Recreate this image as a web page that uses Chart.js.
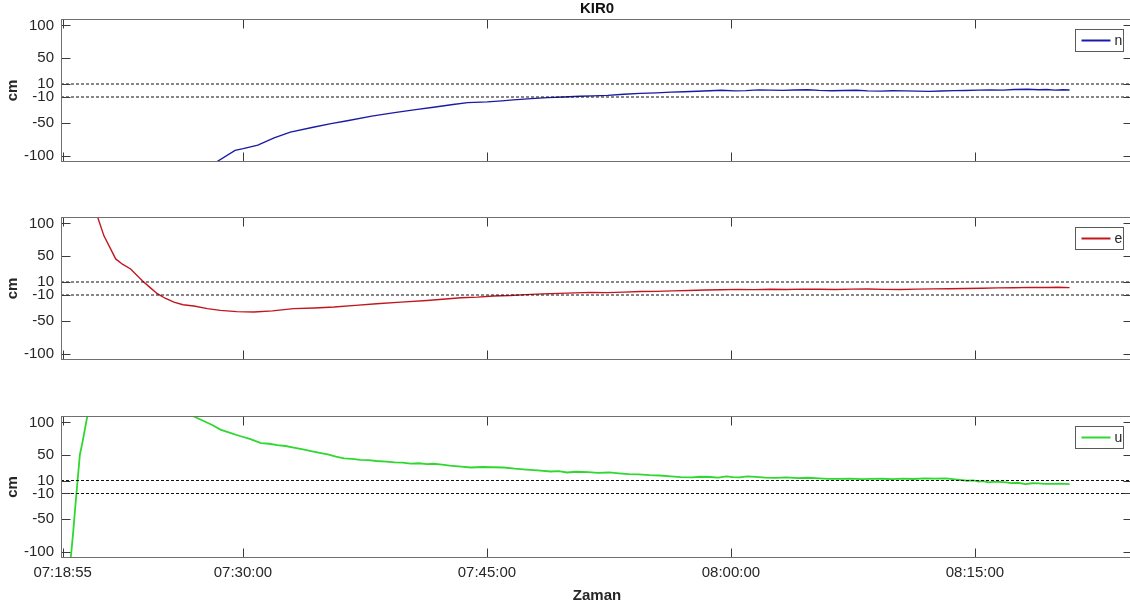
<!DOCTYPE html>
<html>
<head>
<meta charset="utf-8">
<script src="https://cdn.jsdelivr.net/npm/chart.js@4.4.1/dist/chart.umd.min.js"></script>
<style>
    html, body { margin: 0; padding: 0; background: #fff; width: 1130px; height: 606px; overflow: hidden; }
    .panel { position: absolute; left: 0; }
</style>
</head>
<body>
<div class="panel" style="top:0px"><canvas id="chartN" width="1140" height="170"></canvas></div>
<div class="panel" style="top:200px"><canvas id="chartE" width="1140" height="170"></canvas></div>
<div class="panel" style="top:400px"><canvas id="chartU" width="1140" height="206"></canvas></div>
<script>
// zaman ekseni: 07:18:55'ten itibaren dakika
const tickLabels = ["07:18:55", "07:30:00", "07:45:00", "08:00:00", "08:15:00"];
const yTicks = [-100, -50, -10, 10, 50, 100];
const limitLines = [10, -10];

const nTime = [9.45, 10.6, 11.1, 12.0, 13.0, 14.0, 15.4, 16.5, 17.5, 19.0, 20.4, 21.7, 22.8, 24.0, 24.9, 26.1,
    27.0, 27.7, 28.8, 29.8, 30.8, 31.8, 32.6, 33.5, 34.5, 35.5, 36.5, 37.4, 38.2, 39.0, 39.8, 40.5, 41.3,
    42.0, 42.8, 43.5, 44.3, 45.0, 45.8, 46.5, 47.3, 48.0, 48.8, 49.5, 50.3, 51.0, 51.8, 52.5, 53.3, 54.0,
    54.8, 55.5, 56.3, 57.0, 57.8, 58.5, 59.3, 60.0, 60.5, 61.0, 61.5, 61.9];
const nVals = [-110, -92, -89.5, -84, -73, -64, -56.5, -51, -46.5, -39.5, -34, -29.5, -25.7, -21.5, -18.6, -17.5,
    -16, -14.5, -12.5, -11, -10, -8.9, -8.2, -7.5, -5.8, -4.5, -3.6, -2.5, -2.0, -1.2, -0.4, 0.3, -0.6,
    -0.2, 0.9, 0.6, 0.2, 0.8, 1.2, 0.2, -0.3, 0.0, 0.4, -0.5, -0.9, -0.3, -0.6, -1.0, -1.4, -0.8,
    -0.2, 0.0, 0.5, 1.0, 0.6, 1.5, 1.9, 1.2, 1.6, 0.6, 1.1, 0.8];

const eTime = [2.15, 2.54, 2.95, 3.26, 3.7, 4.18, 4.9, 5.4, 5.82, 6.3, 6.84, 7.4, 8.07, 8.9, 9.7, 10.7, 11.76,
    12.9, 14.2, 15.5, 16.7, 18.0, 19.3, 20.8, 22.4, 24.5, 25.5, 26.5, 27.5, 28.5, 29.5, 30.5, 31.5, 32.5,
    33.5, 34.5, 35.5, 36.5, 37.5, 38.5, 39.5, 40.5, 41.5, 42.5, 43.5, 44.5, 45.5, 46.5, 47.5, 48.5, 49.5,
    50.5, 51.5, 52.5, 53.5, 54.5, 55.5, 56.5, 57.5, 58.5, 59.5, 60.5, 61.2, 61.9];
const eVals = [110, 81, 61, 45.5, 37, 30, 12, 1, -8, -15, -21, -25, -27, -31, -33.7, -35.5, -36.2,
    -34.5, -31, -30, -28.5, -26, -23.5, -21, -18.4, -14.3, -13.2, -11.5, -10.8, -9.5, -8.2, -7.5, -6.8, -6,
    -6.4, -5.5, -4.7, -4.5, -3.6, -3, -2.4, -2, -1.4, -1.8, -1.1, -1.5, -0.9, -1.2, -1.6, -1.0, -0.7,
    -1.3, -1.5, -1.0, -0.6, -0.3, 0.1, 0.3, 0.9, 1.2, 1.8, 1.5, 1.9, 1.3];

const uTime = [0.5, 0.65, 0.78, 0.85, 0.92, 1.06, 1.21, 1.52, 4.8, 8.0, 8.6, 9.2, 9.7, 10.3, 10.9, 11.5, 12.2,
    12.7, 13.2, 13.7, 14.2, 14.7, 15.2, 15.8, 16.3, 16.8, 17.3, 17.8, 18.3, 18.8, 19.3, 19.9, 20.4, 20.9,
    21.4, 21.9, 22.4, 22.8, 23.2, 23.8, 24.5, 25.1, 25.8, 26.4, 27.1, 27.8, 28.5, 29.2, 30.0, 30.5, 31.0,
    31.6, 32.3, 32.9, 33.6, 34.2, 34.8, 35.4, 36.1, 36.7, 37.4, 38.0, 38.7, 39.2, 39.8, 40.3, 40.8, 41.2,
    41.6, 42.1, 42.6, 43.2, 43.8, 44.5, 45.2, 45.8, 46.5, 47.1, 47.8, 48.4, 49.1, 49.7, 50.4, 51.0, 51.7,
    52.3, 53.0, 53.6, 54.3, 54.7, 55.0, 55.3, 55.6, 56.0, 56.3, 56.6, 56.9, 57.2, 57.6, 58.0, 58.3, 58.7,
    59.2, 59.6, 60.0, 60.4, 60.8, 61.3, 61.9];
const uVals = [-110, -70, -30, -10, 10, 50, 68, 110, null, 110, 103, 96, 89, 84, 79, 74.5, 68,
    67, 65, 63.5, 61, 58.5, 56, 53, 50.5, 47, 44.5, 43.5, 42, 41.6, 40.3, 39.2, 38, 37.8,
    36.3, 36.8, 35.5, 36, 35, 33, 31.5, 30.2, 31, 30.6, 30.2, 28.4, 27, 25.8, 24, 24.5, 22.5,
    23.6, 23, 21.8, 22.5, 21.2, 20, 19.6, 18.4, 17.8, 16.5, 15.4, 14.8, 15.9, 15.5, 14.6, 16.5, 15.2,
    15, 16.4, 15.8, 14.4, 14, 14.8, 13.8, 14.3, 13.3, 12.6, 12.5, 13.1, 12.2, 12.6, 12.8, 12.3, 13,
    12.4, 13.3, 12.9, 13.3, 12.2, 11.5, 10.6, 9.7, 10.3, 8.5, 9.2, 7.2, 7.8, 8, 7.1, 6, 6.6,
    4.6, 5.8, 5.5, 4.9, 4.8, 5.2, 4.6];

const X_MIN = -0.1;
const X_MAX = 65.8;

function toSec(s) {
    const p = s.split(":").map(Number);
    return p[0] * 3600 + p[1] * 60 + p[2];
}
const tickMins = tickLabels.map(s => (toSec(s) - toSec(tickLabels[0])) / 60);

const FONT = "'Liberation Sans', Arial, sans-serif";
const TEXT = "#262626";

// kutu, iç tik çizgileri ve lejant
const framePlugin = {
    id: "frame",
    afterDraw(chart, args, opts) {
        const { ctx, chartArea: a, scales: { x, y } } = chart;
        const L = Math.round(a.left) + 0.5, R = Math.round(a.right) - 0.5;
        const T = Math.round(a.top) + 0.5, B = Math.round(a.bottom) - 0.5;
        ctx.save();
        ctx.lineWidth = 1;
        ctx.strokeStyle = "#3a3a3a";
        ctx.beginPath();
        x.ticks.forEach(t => {
            const px = Math.round(x.getPixelForValue(t.value)) + 0.5;
            ctx.moveTo(px, T); ctx.lineTo(px, T + 9);
            ctx.moveTo(px, B); ctx.lineTo(px, B - 9);
        });
        y.ticks.forEach(t => {
            const py = Math.round(y.getPixelForValue(t.value)) + 0.5;
            ctx.moveTo(L, py); ctx.lineTo(L + 9, py);
            ctx.moveTo(R, py); ctx.lineTo(R - 9, py);
        });
        ctx.stroke();
        ctx.strokeStyle = "#707070";
        ctx.strokeRect(L, T, R - L, B - T);

        // lejant kutusu
        const bx = Math.round(a.right) - 57.5, by = T + 10, bw = 48, bh = 22;
        ctx.fillStyle = "#fff";
        ctx.fillRect(bx, by, bw, bh);
        ctx.strokeStyle = "#5a5a5a";
        ctx.strokeRect(bx, by, bw, bh);
        ctx.strokeStyle = opts.color;
        ctx.lineWidth = 2;
        ctx.beginPath();
        ctx.moveTo(bx + 6, by + bh / 2);
        ctx.lineTo(bx + 35, by + bh / 2);
        ctx.stroke();
        ctx.fillStyle = TEXT;
        ctx.font = "14px " + FONT;
        ctx.textBaseline = "middle";
        ctx.fillText(opts.label, bx + 39, by + bh / 2 + 1);
        ctx.restore();
    }
};

function makePanel(id, label, color, width, times, vals, cfg) {
    const pts = times.map((t, i) => ({ x: t, y: vals[i] }));
    const refSets = limitLines.map(v => ({
        label: "ref" + v,
        data: [{ x: X_MIN, y: v }, { x: X_MAX, y: v }],
        borderColor: "#111",
        borderWidth: 1.1,
        borderDash: [3, 2],
        pointRadius: 0
    }));
    return new Chart(document.getElementById(id), {
        type: "line",
        data: {
            datasets: [...refSets, {
                label: label,
                data: pts,
                borderColor: color,
                borderWidth: width,
                pointRadius: 0,
                tension: 0,
                spanGaps: false
            }]
        },
        plugins: [framePlugin],
        options: {
            responsive: false,
            animation: false,
            devicePixelRatio: 1,
            layout: { padding: { top: cfg.padTop, bottom: cfg.padBottom, left: 0, right: 7 } },
            plugins: {
                legend: { display: false },
                tooltip: { enabled: false },
                frame: { label: label, color: color },
                title: {
                    display: !!cfg.title,
                    text: cfg.title || "",
                    fullSize: false,
                    color: "#111",
                    font: { family: FONT, size: 15, weight: "bold" },
                    padding: { top: 0, bottom: 1 }
                }
            },
            scales: {
                x: {
                    type: "linear",
                    min: X_MIN,
                    max: X_MAX,
                    afterBuildTicks: s => { s.ticks = tickMins.map(v => ({ value: v })); },
                    afterFit: s => { s.height = cfg.xHeight; s.paddingLeft = 0; s.paddingRight = 0; },
                    grid: { display: false, drawTicks: false },
                    border: { display: false },
                    ticks: {
                        display: cfg.showX,
                        autoSkip: false,
                        maxRotation: 0,
                        padding: 6,
                        color: TEXT,
                        font: { family: FONT, size: 15 },
                        callback: (v, i) => tickLabels[i]
                    },
                    title: {
                        display: cfg.showX,
                        text: "Zaman",
                        color: TEXT,
                        font: { family: FONT, size: 15, weight: "bold" },
                        padding: { top: 0, bottom: 1 }
                    }
                },
                y: {
                    min: -110,
                    max: 110,
                    afterBuildTicks: s => { s.ticks = yTicks.map(v => ({ value: v })); },
                    afterFit: s => { s.width = 61; s.paddingTop = 0; s.paddingBottom = 0; },
                    grid: { display: false, drawTicks: false },
                    border: { display: false },
                    ticks: {
                        autoSkip: false,
                        padding: 7,
                        color: TEXT,
                        font: { family: FONT, size: 15 }
                    },
                    title: {
                        display: true,
                        text: "cm",
                        color: TEXT,
                        font: { family: FONT, size: 15, weight: "bold" },
                        padding: { top: 4, bottom: 0 }
                    }
                }
            }
        }
    });
}

makePanel("chartN", "n", "#1a1aa6", 1.4, nTime, nVals, { title: "KIR0", padTop: 0, padBottom: 8, xHeight: 0, showX: false });
makePanel("chartE", "e", "#c2161e", 1.4, eTime, eVals, { padTop: 17, padBottom: 10, xHeight: 0, showX: false });
makePanel("chartU", "u", "#2fd82f", 1.8, uTime, uVals, { padTop: 16, padBottom: 0, xHeight: 48, showX: true });
</script>
</body>
</html>
